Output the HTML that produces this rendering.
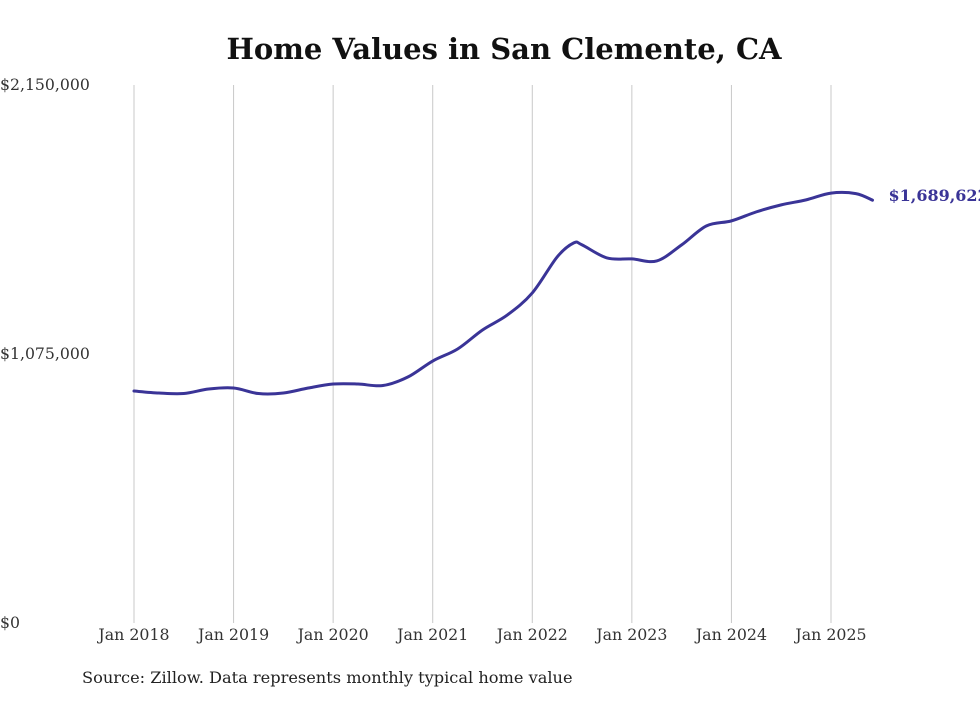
<!DOCTYPE html>
<html><head><meta charset="utf-8"><style>
body{margin:0;background:#fff;width:980px;height:699px;overflow:hidden;font-family:"DejaVu Serif",serif}
</style></head><body>
<svg id="chart" width="980" height="699" xmlns="http://www.w3.org/2000/svg" font-family="DejaVu Serif, serif">
<text x="504" y="59" text-anchor="middle" font-weight="bold" font-size="29" fill="#111">Home Values in San Clemente, CA</text>
<g id="grid"></g><g id="yaxis"></g><g id="xaxis"></g><g id="series"></g>
<text x="82" y="683" font-size="16.2" fill="#222">Source: Zillow. Data represents monthly typical home value</text>
</svg>
<script>
const months=[0,3,6,9,12,15,18,21,24,27,30,33,36,39,42,45,48,51,53,54,57,60,63,66,69,72,75,78,81,84,87,89];
const values=[927000,919000,917000,935000,939000,917000,919000,939000,955000,955000,949000,983000,1047000,1095000,1171000,1231000,1319000,1463000,1519000,1511000,1459000,1455000,1447000,1511000,1587000,1607000,1643000,1671000,1691000,1718000,1716000,1689622];
const yTicks=[0,1075000,2150000];
const yTickLabels=["$0","$1,075,000","$2,150,000"];
const xTickMonths=[0,12,24,36,48,60,72,84];
const xTickLabels=["Jan 2018","Jan 2019","Jan 2020","Jan 2021","Jan 2022","Jan 2023","Jan 2024","Jan 2025"];
const lastLabel="$1,689,622";
const NS="http://www.w3.org/2000/svg";
const x=m=>134+m*(697/84);
const y=v=>623-v/2150000*538;
function mk(t,a,p,txt){const e=document.createElementNS(NS,t);for(const k in a)e.setAttribute(k,a[k]);if(txt!==undefined)e.textContent=txt;document.getElementById(p).appendChild(e);return e;}
xTickMonths.forEach((m,i)=>{
 const g=mk('line',{x1:x(m),x2:x(m),y1:85,y2:623,stroke:'#c8c8c8','stroke-width':1},'grid');
 
 
 const t=mk('text',{x:x(m),y:640,'text-anchor':'middle','font-size':15.8,fill:'#333'},'xaxis',xTickLabels[i]);
 
 
});
yTicks.forEach((v,i)=>{
 const t=mk('text',{x:0,y:y(v)+5,'font-size':15.7,fill:'#333'},'yaxis',yTickLabels[i]);
 
 
});
const pts=months.map((m,i)=>[x(m),y(values[i])]);
let d='M'+pts[0][0]+','+pts[0][1];
for(let i=0;i<pts.length-1;i++){
 const p0=pts[Math.max(0,i-1)],p1=pts[i],p2=pts[i+1],p3=pts[Math.min(pts.length-1,i+2)];
 const c1=[p1[0]+(p2[0]-p0[0])/6,p1[1]+(p2[1]-p0[1])/6],c2=[p2[0]-(p3[0]-p1[0])/6,p2[1]-(p3[1]-p1[1])/6];
 d+=`C${c1[0]},${c1[1]} ${c2[0]},${c2[1]} ${p2[0]},${p2[1]}`;
}
const path=mk('path',{d:d,fill:'none',stroke:'#3a3497','stroke-width':3,'stroke-linecap':'round'},'series');


const lp=pts[pts.length-1];
const lb=mk('text',{x:lp[0]+16,y:lp[1]+1,'font-size':16,'font-weight':'bold',fill:'#3a3497'},'series',lastLabel);


</script>
</body></html>
